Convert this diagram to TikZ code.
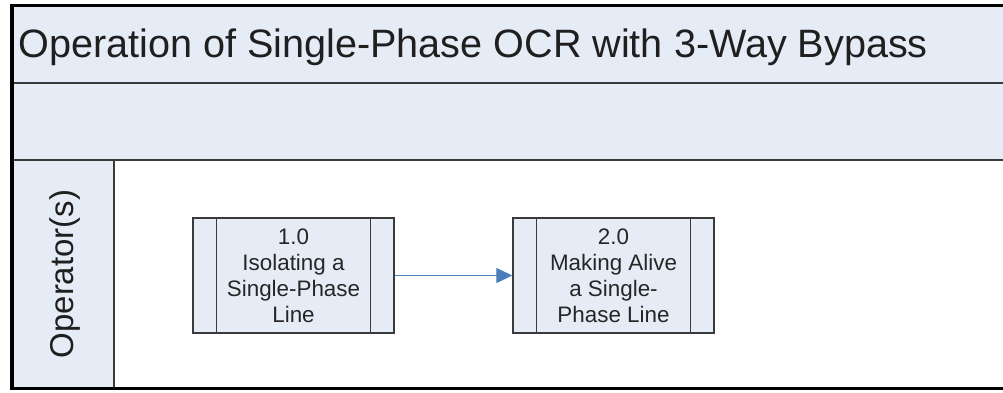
\documentclass[tikz,border=0pt]{standalone}
\usepackage{fontspec}
\setmainfont{Liberation Sans}
\usetikzlibrary{arrows.meta}
\definecolor{lanefill}{HTML}{E6ECF6}
\definecolor{edge}{HTML}{3A3A3A}
\definecolor{arrowblue}{HTML}{4A7EBB}
\tikzset{
  px/.style={x=1pt,y=-1pt},
  band/.style={fill=lanefill,draw=edge,line width=1.4pt},
  procbox/.style={fill=lanefill,draw=edge,line width=1.4pt,minimum width=201pt,minimum height=115pt,inner sep=0pt},
  proclabel/.style={align=center,font=\fontsize{22.4}{26}\selectfont,text=black!85},
  flow/.style={draw=arrowblue,line width=1.3pt,-{Triangle[length=16pt,width=15pt]}}
}
\begin{document}
\begin{tikzpicture}[px]
\useasboundingbox (0,0) rectangle (1003,392);
\fill[white] (0,0) rectangle (1003,392);
% title band and empty band
\filldraw[band] (12,5.5) rectangle (1010,83);
\filldraw[band] (12,83) rectangle (1010,160);
% lane header
\filldraw[band] (12,160) rectangle (114,388.5);
\draw[edge,line width=1.4pt] (114,160) -- (114,388.5);
% outer frame
\draw[black,line width=3.5pt] (1010,5.5) -- (12,5.5) -- (12,388.5) -- (1010,388.5);
% title
\node[anchor=base west,inner sep=0pt,font=\fontsize{39.6}{44}\selectfont,text=black!88] (title) at (18,57) {Operation of Single-Phase OCR with 3-Way Bypass};
% lane label
\node[rotate=90,anchor=base,inner sep=0pt,font=\fontsize{33}{38}\selectfont,text=black!88] (lane) at (73,274) {Operator(s)};
% process boxes
\node[procbox] (p1) at (293.5,275.5) {};
\draw[edge,line width=1.4pt] ([xshift=24pt]p1.north west) -- ([xshift=24pt]p1.south west);
\draw[edge,line width=1.4pt] ([xshift=-24pt]p1.north east) -- ([xshift=-24pt]p1.south east);
\node[proclabel] (t1) at (p1.center) {1.0\\Isolating a\\Single-Phase\\Line};
\node[procbox] (p2) at (613.5,275.5) {};
\draw[edge,line width=1.4pt] ([xshift=24pt]p2.north west) -- ([xshift=24pt]p2.south west);
\draw[edge,line width=1.4pt] ([xshift=-24pt]p2.north east) -- ([xshift=-24pt]p2.south east);
\node[proclabel] (t2) at (p2.center) {2.0\\Making Alive\\a Single-\\Phase Line};
% connector
\draw[flow] (p1.east) -- (p2.west);
\end{tikzpicture}
\end{document}
